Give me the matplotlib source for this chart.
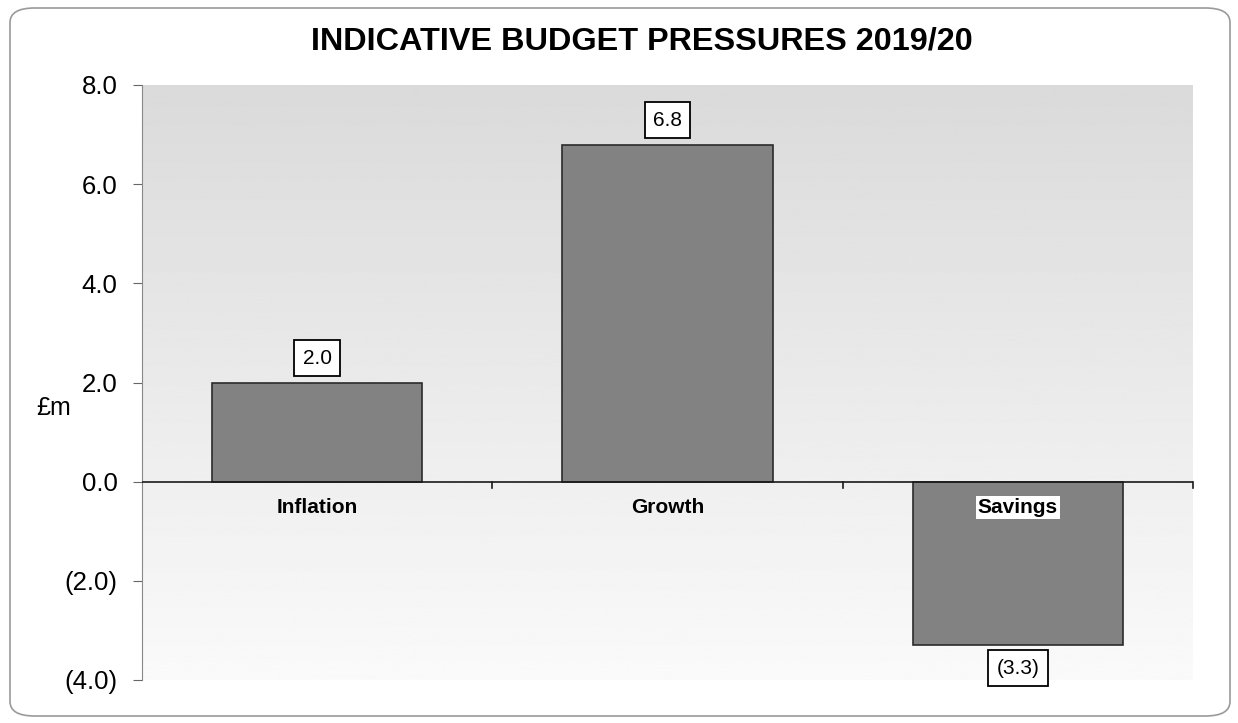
import numpy as np
import matplotlib.pyplot as plt
from matplotlib.patches import FancyBboxPatch

categories = ["Inflation", "Growth", "Savings"]
values = [2.0, 6.8, -3.3]
value_labels = ["2.0", "6.8", "(3.3)"]
yticks = [-4, -2, 0, 2, 4, 6, 8]
ytick_labels = ["(4.0)", "(2.0)", "0.0", "2.0", "4.0", "6.0", "8.0"]

plt.rcParams['font.family'] = ['Liberation Sans', 'DejaVu Sans']

fig = plt.figure(figsize=(12.38, 7.23), dpi=100)
ax = fig.add_axes([142/1238, 1 - 680/723, (1193-142)/1238, (680-85)/723])

# rounded frame round the whole chart
frame = FancyBboxPatch((10/1238, 7/723), 1220/1238, 708/723,
                       boxstyle="round,pad=0,rounding_size=0.02",
                       transform=fig.transFigure, facecolor="white",
                       edgecolor="#9a9a9a", linewidth=1.2, zorder=-10)
fig.patches.append(frame)

# grey gradient in the plot area, dark at the top
grad = np.linspace(0.98, 0.855, 256).reshape(-1, 1)
ax.imshow(grad, cmap="gray", vmin=0, vmax=1, aspect="auto",
          extent=(0, 1, 0, 1), transform=ax.transAxes, zorder=0,
          origin="lower")

x = np.arange(len(categories))
ax.bar(x, values, width=0.6, color="#828282", edgecolor="#2b2b2b",
       linewidth=1.2, zorder=2)

ax.set_xlim(-0.5, 2.5)
ax.set_ylim(-4, 8)
ax.set_yticks(yticks)
ax.set_yticklabels(ytick_labels, fontsize=18.5)
ax.tick_params(axis="y", direction="out", length=6.5, color="#666666", pad=11)
ax.set_xticks([0.5, 1.5, 2.5])
ax.set_xticklabels([])
ax.tick_params(axis="x", length=0)

for s in ["top", "right", "bottom"]:
    ax.spines[s].set_visible(False)
ax.spines["left"].set_color("#888888")
ax.axhline(0, color="#1a1a1a", linewidth=1.2, zorder=3)
for b in [0.5, 1.5, 2.5]:
    ax.plot([b, b], [0, -0.12], color="#1a1a1a", linewidth=1.2, zorder=3,
            clip_on=False)

for i, (v, lab) in enumerate(zip(values, value_labels)):
    off = 17.5 if v > 0 else -16.5
    ax.annotate(lab, (i, v), xytext=(0, off), textcoords="offset points",
                ha="center", va="center", fontsize=15,
                bbox=dict(boxstyle="square,pad=0.4", facecolor="white",
                          edgecolor="black", linewidth=1.3), zorder=4)

for i, cat in enumerate(categories):
    bb = dict(boxstyle="square,pad=0.1", facecolor="white",
              edgecolor="none") if values[i] < 0 else None
    ax.text(i, -0.52, cat, ha="center", va="center", fontsize=15,
            fontweight="bold", bbox=bb, zorder=4)

ax.set_ylabel("£m", fontsize=18, rotation=0, va="center", ha="center")
ax.yaxis.set_label_coords(-0.084, 0.457)

fig.text(642/1238, 1 - 42/723, "INDICATIVE BUDGET PRESSURES 2019/20",
         ha="center", va="center", fontsize=23.3, fontweight="bold")

fig.savefig("out.png", dpi=100)
